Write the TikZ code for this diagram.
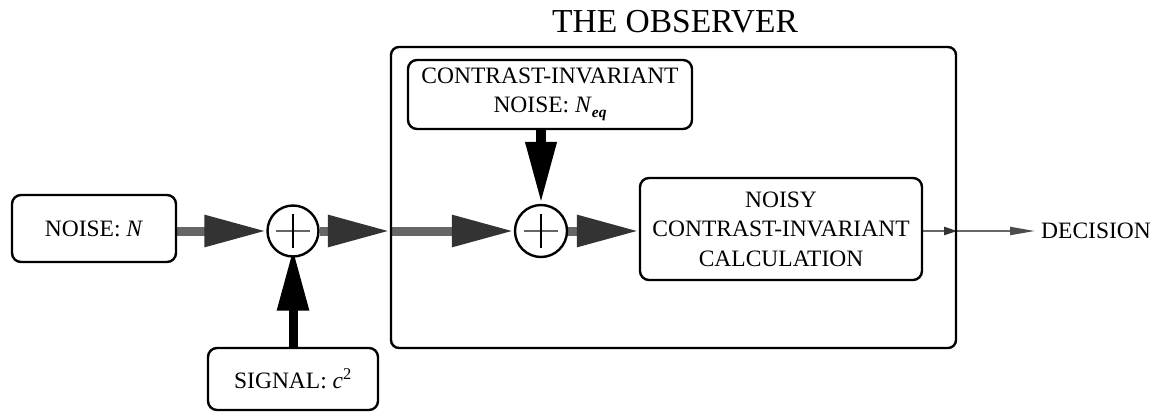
\documentclass[tikz,border=0pt]{standalone}
\usepackage{fontspec}
\setmainfont{Liberation Serif}
\usetikzlibrary{arrows.meta,backgrounds}
\newcommand\boxfont{\fontsize{23.5}{29.5}\selectfont}
\newcommand\titlefont{\fontsize{33.5}{38}\selectfont}
\begin{document}
\begin{tikzpicture}[x=1pt,y=-1pt,
  box/.style={draw, line width=2.4pt, rounded corners=9pt, align=center, inner sep=0pt, font=\boxfont},
  sum/.style={draw, circle, line width=2.4pt, fill=white, inner sep=0pt, minimum size=51pt},
  garrow/.style={line width=9pt, draw=black!60, -{Triangle[length=62pt,width=30pt,color=black!80]}},
  barrow/.style={line width=10pt, draw=black, -{Triangle[length=62pt,width=29pt]}},
  tarrowa/.style={line width=2pt, draw=black!60, -{Triangle[length=13pt,width=8pt,color=black!80]}},
  tarrowb/.style={line width=2pt, draw=black!60, -{Triangle[length=25pt,width=8pt,color=black!70]}},
  plusg/.style={line width=2pt, draw=black!60},
  plusb/.style={line width=2pt, draw=black}
]
\useasboundingbox (0,0) rectangle (1153,412);

\node[box, minimum width=164pt, minimum height=67pt] (noise) at (94,228.5) {NOISE: \textit{N}};
\node[sum] (c1) at (293,231) {};
\node[draw, line width=2.4pt, rounded corners=8pt, minimum width=565pt, minimum height=301pt] (obs) at (673.5,197.5) {};
\node[font=\titlefont] (title) at (675,22) {THE OBSERVER};
\node[box, minimum width=284pt, minimum height=69pt] (cin) at (550,94.5)
  {CONTRAST-INVARIANT\\NOISE: \textit{N}\raisebox{-0.45ex}{\fontsize{15.5}{15.5}\selectfont\textit{\textbf{eq}}}};
\node[sum, minimum size=52pt] (c2) at (541,231) {};
\node[box, minimum width=282pt, minimum height=102pt] (calc) at (781,229)
  {NOISY\\CONTRAST-INVARIANT\\CALCULATION};
\node[box, minimum width=170pt, minimum height=62pt] (sig) at (293,379) {SIGNAL: \textit{c}\textsuperscript{2}};
\node[font=\boxfont, anchor=west, inner sep=0pt] (dec) at (1041,231) {DECISION};

% plus signs
\draw[plusg] ([xshift=-17pt]c1.center) -- ([xshift=17pt]c1.center);
\draw[plusb] ([yshift=-17pt]c1.center) -- ([yshift=17pt]c1.center);
\draw[plusg] ([xshift=-17pt]c2.center) -- ([xshift=17pt]c2.center);
\draw[plusb] ([yshift=-17pt]c2.center) -- ([yshift=17pt]c2.center);

\coordinate (oin) at (c1 -| obs.west);
\coordinate (oout) at (c2 -| obs.east);

\begin{scope}[on background layer]
\draw[garrow] (noise.east |- c1) -- (c1.west);
\draw[garrow] (c1.east) -- (oin);
\draw[garrow] (oin) -- (c2.west);
\draw[garrow] (c2.east) -- (calc.west |- c2);
\draw[barrow] (cin.south -| c2) -- (c2.north);
\draw[barrow, line width=9pt, -{Triangle[length=62pt,width=30pt]}, shorten >=-9pt] (sig.north) -- (c1.south);
\draw[tarrowa] (calc.east |- c2) -- (oout);
\draw[tarrowb] (oout) -- ([xshift=-6pt]dec.west);
\end{scope}
\end{tikzpicture}
\end{document}
